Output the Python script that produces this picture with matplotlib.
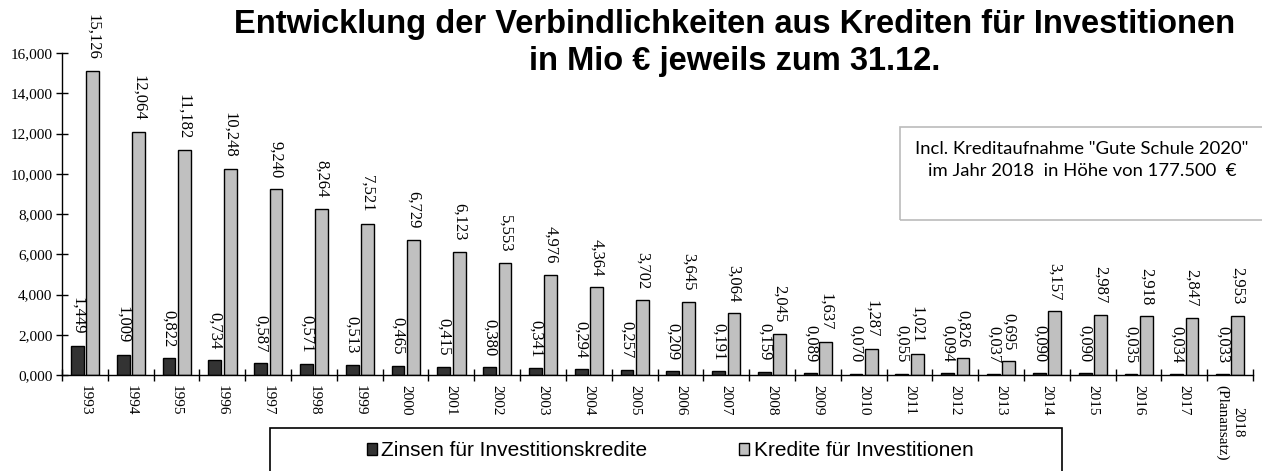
import numpy as np
import matplotlib.pyplot as plt
from matplotlib.patches import Rectangle, Patch

# Werte in Mio EUR
jahre = ["1993", "1994", "1995", "1996", "1997", "1998", "1999", "2000", "2001",
         "2002", "2003", "2004", "2005", "2006", "2007", "2008", "2009", "2010",
         "2011", "2012", "2013", "2014", "2015", "2016", "2017", "2018\n(Planansatz)"]
zinsen = [1.449, 1.009, 0.822, 0.734, 0.587, 0.571, 0.513, 0.465, 0.415, 0.380,
          0.341, 0.294, 0.257, 0.209, 0.191, 0.159, 0.089, 0.070, 0.055, 0.094,
          0.037, 0.090, 0.090, 0.035, 0.034, 0.033]
kredite = [15.126, 12.064, 11.182, 10.248, 9.240, 8.264, 7.521, 6.729, 6.123, 5.553,
           4.976, 4.364, 3.702, 3.645, 3.064, 2.045, 1.637, 1.287, 1.021, 0.826,
           0.695, 3.157, 2.987, 2.918, 2.847, 2.953]
yticks = [0, 2, 4, 6, 8, 10, 12, 14, 16]

def de(v):
    return f"{v:.3f}".replace(".", ",")

W, H = 1262, 471
fig = plt.figure(figsize=(W / 100, H / 100), dpi=100)
ax = fig.add_axes([62 / W, (H - 375) / H, (1253 - 62) / W, (375 - 53) / H])

n = len(jahre)
x = np.arange(n)
w = 0.28
dunkel = "#333333"
hell = "#c0c0c0"
b1 = ax.bar(x - 0.165, zinsen, w, color=dunkel, edgecolor="black", linewidth=1)
b2 = ax.bar(x + 0.17, kredite, w, color=hell, edgecolor="black", linewidth=1)

for bars, vals in ((b1, zinsen), (b2, kredite)):
    for r, v in zip(bars, vals):
        ax.annotate(de(v), (r.get_x() + r.get_width() / 2, v), xytext=(0, 8),
                    textcoords="offset points", rotation=270, ha="center", va="bottom",
                    family="Liberation Serif", fontsize=12)

ax.set_xlim(-0.5, n - 0.5)
ax.set_ylim(0, 16)
ax.set_yticks(yticks)
ax.set_yticklabels([de(v) for v in yticks], family="Liberation Serif", fontsize=11)
ax.tick_params(axis="y", direction="inout", length=8, width=1, pad=3)

ax.set_xticks(np.arange(n + 1) - 0.5)
ax.set_xticklabels([])
ax.tick_params(axis="x", which="major", direction="inout", length=8, width=1)
ax.set_xticks(x, minor=True)
ax.set_xticklabels(jahre, minor=True, rotation=270, family="Liberation Serif",
                   fontsize=11, va="top", ha="center", multialignment="center")
ax.tick_params(axis="x", which="minor", length=0, pad=7)

for s in ("top", "right"):
    ax.spines[s].set_visible(False)
ax.spines["left"].set_linewidth(1)
ax.spines["bottom"].set_linewidth(1)

# Titel
fig.text(735 / W, 1 - 33 / H, "Entwicklung der Verbindlichkeiten aus Krediten für Investitionen",
         ha="center", va="baseline", family="Liberation Sans", fontweight="bold", fontsize=23.5)
fig.text(735 / W, 1 - 70 / H, "in Mio € jeweils zum 31.12.",
         ha="center", va="baseline", family="Liberation Sans", fontweight="bold", fontsize=23.5)

# Hinweisbox
fig.patches.append(Rectangle((900 / W, 1 - 220 / H), 380 / W, 93 / H, transform=fig.transFigure,
                             fill=False, edgecolor="#bbbbbb", linewidth=1.2))
fig.text(1082 / W, 1 - 160 / H, 'Incl. Kreditaufnahme "Gute Schule 2020"\nim Jahr 2018  in Höhe von 177.500  €',
         ha="center", va="center", family="Lato", fontsize=13.3, linespacing=1.45)

# Legende
fig.patches.append(Rectangle((270 / W, -0.05), (1062 - 270) / W, 0.05 + (H - 428) / H,
                             transform=fig.transFigure, fill=False, edgecolor="black", linewidth=1.2))
handles = [Patch(facecolor=dunkel, edgecolor="black"), Patch(facecolor=hell, edgecolor="black")]
fig.legend(handles, ["Zinsen für Investitionskredite", "Kredite für Investitionen"],
           loc="center", bbox_to_anchor=(670 / W, 1 - 451 / H), ncol=2, frameon=False,
           prop={"family": "Liberation Sans", "size": 15}, handlelength=0.5, handleheight=0.5,
           handletextpad=0.2, columnspacing=4.4)

fig.savefig("out.png", dpi=100)
